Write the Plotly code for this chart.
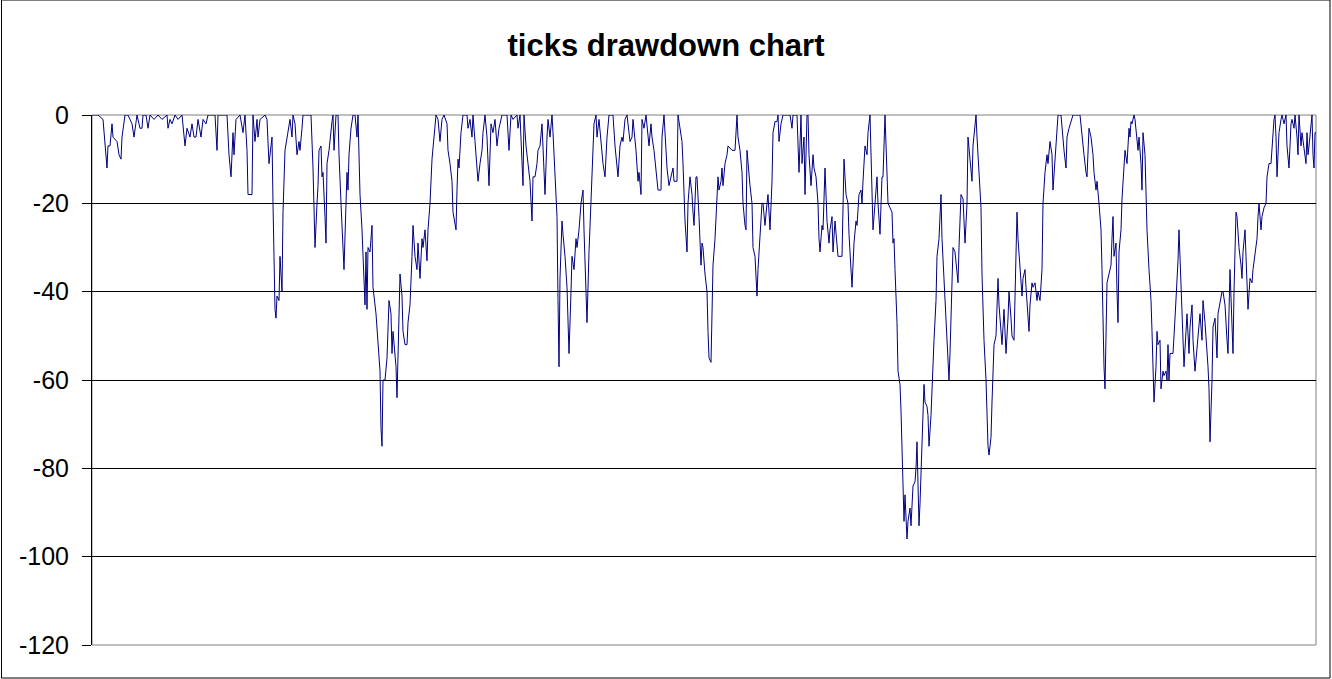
import plotly.graph_objects as go

# trade number (x) and drawdown in ticks (y)
trade = [
    0, 6, 11, 13, 15, 16, 18, 20, 21, 25, 27, 29, 30, 33, 36, 40, 42, 45, 48, 50,
    51, 54, 56, 58, 62, 66, 70, 75, 76, 78, 80, 83, 86, 90, 93, 95, 98, 100, 102, 104,
    106, 109, 111, 114, 116, 123, 125, 126, 135, 137, 139, 141, 142, 144, 148, 151, 153, 155, 156, 160,
    161, 163, 165, 166, 168, 173, 175, 177, 180, 181, 183, 184, 185, 187, 188, 190, 191, 193, 195, 198,
    200, 201, 203, 205, 207, 208, 210, 211, 216, 219, 221, 223, 225, 226, 227, 229, 230, 231, 233, 234,
    235, 237, 240, 241, 242, 244, 246, 247, 249, 251, 252, 254, 255, 256, 257, 259, 261, 263, 265, 266,
    268, 270, 271, 273, 274, 275, 276, 278, 280, 281, 284, 286, 288, 289, 290, 291, 293, 295, 296, 297,
    299, 300, 301, 302, 304, 305, 307, 308, 310, 311, 313, 315, 316, 318, 320, 321, 323, 325, 326, 328,
    330, 331, 333, 335, 336, 338, 340, 342, 344, 346, 348, 350, 352, 355, 356, 358, 360, 361, 363, 364,
    365, 366, 367, 369, 371, 375, 376, 378, 380, 381, 383, 385, 386, 388, 390, 391, 393, 395, 396, 397,
    399, 401, 403, 405, 407, 410, 415, 417, 419, 421, 425, 426, 428, 430, 431, 432, 434, 436, 438, 440,
    441, 443, 445, 446, 448, 450, 451, 453, 455, 456, 458, 460, 461, 463, 465, 466, 467, 468, 470, 471,
    473, 475, 476, 477, 479, 480, 482, 484, 485, 487, 489, 491, 492, 494, 495, 497, 499, 501, 502, 504,
    505, 507, 509, 511, 513, 515, 517, 521, 523, 525, 526, 528, 530, 531, 533, 535, 536, 538, 540, 541,
    544, 546, 547, 549, 550, 552, 554, 555, 557, 559, 560, 562, 564, 566, 569, 570, 572, 574, 575, 577,
    579, 581, 582, 585, 586, 588, 590, 591, 593, 595, 596, 598, 600, 601, 602, 604, 605, 607, 609, 610,
    611, 613, 615, 616, 617, 619, 620, 621, 623, 625, 626, 627, 629, 630, 631, 633, 635, 636, 640, 643,
    645, 646, 648, 650, 651, 653, 654, 655, 656, 658, 660, 661, 663, 665, 666, 668, 670, 671, 673, 675,
    676, 678, 680, 681, 683, 685, 686, 687, 689, 691, 698, 700, 701, 705, 706, 707, 709, 710, 712, 713,
    715, 716, 717, 719, 721, 722, 724, 726, 727, 728, 730, 731, 733, 734, 735, 737, 738, 740, 741, 743,
    745, 746, 750, 751, 752, 754, 756, 757, 759, 760, 762, 764, 765, 767, 769, 770, 771, 773, 775, 776,
    778, 780, 781, 783, 785, 786, 788, 790, 791, 793, 795, 796, 798, 800, 801, 802, 803, 805, 806, 808,
    809, 810, 811, 812, 813, 814, 815, 816, 818, 819, 820, 821, 823, 824, 825, 826, 827, 828, 829, 830,
    832, 833, 835, 836, 837, 839, 840, 842, 844, 845, 847, 848, 849, 850, 852, 854, 855, 857, 858, 860,
    861, 863, 865, 866, 867, 868, 869, 871, 872, 873, 875, 876, 878, 880, 881, 883, 884, 885, 887, 889,
    890, 892, 894, 895, 896, 897, 899, 900, 902, 904, 905, 906, 907, 909, 910, 912, 913, 914, 916, 917,
    919, 920, 922, 923, 924, 925, 926, 928, 930, 931, 933, 934, 935, 937, 938, 940, 941, 943, 945, 946,
    948, 950, 951, 953, 955, 956, 958, 960, 961, 963, 965, 966, 969, 971, 972, 974, 975, 977, 979, 981,
    988, 990, 992, 994, 995, 997, 999, 1001, 1002, 1004, 1005, 1007, 1009, 1010, 1011, 1012, 1013, 1014, 1015, 1017,
    1019, 1020, 1021, 1022, 1024, 1025, 1026, 1027, 1029, 1030, 1032, 1033, 1035, 1036, 1037, 1038, 1039, 1040, 1042, 1043,
    1045, 1046, 1047, 1049, 1050, 1051, 1053, 1054, 1055, 1057, 1059, 1060, 1061, 1062, 1064, 1065, 1066, 1068, 1069, 1071,
    1072, 1074, 1075, 1076, 1077, 1078, 1080, 1081, 1083, 1085, 1086, 1087, 1089, 1090, 1092, 1094, 1095, 1097, 1098, 1100,
    1101, 1103, 1105, 1106, 1108, 1110, 1111, 1113, 1115, 1116, 1117, 1118, 1120, 1121, 1123, 1125, 1126, 1128, 1130, 1131,
    1133, 1135, 1136, 1138, 1140, 1141, 1142, 1143, 1144, 1145, 1147, 1149, 1150, 1151, 1153, 1154, 1155, 1156, 1158, 1160,
    1161, 1163, 1165, 1166, 1167, 1169, 1170, 1172, 1174, 1175, 1177, 1179, 1180, 1182, 1183, 1184, 1185, 1187, 1189, 1190,
    1192, 1194, 1195, 1197, 1199, 1200, 1202, 1203, 1205, 1206, 1207, 1209, 1210, 1212, 1214, 1215, 1216, 1217, 1219, 1220,
    1221, 1222, 1223, 1224,
]

drawdown = [
    0, 0, -1, -7, -12, -7, -7, -2, -5, -6, -9, -10, -5, 0, 0, -2, -5, 0, -3, -3,
    0, 0, -3, 0, -1, 0, -1, 0, -3, -1, -2, 0, -1, 0, -7, -3, -5, -2, -5, -5,
    -1, -5, -1, -2, 0, 0, -8, 0, 0, -9, -14, -4, -9, -1, 0, -4, 0, -8, -18, -18,
    0, -6, -1, -5, -1, 0, -1, -11, -5, -20, -44, -46, -41, -42, -32, -40, -22, -8, -5, -1,
    -5, 0, -2, -9, -6, -8, -3, 0, 0, 0, -12, -30, -20, -16, -8, -7, -14, -13, -23, -29,
    -11, -8, -1.5, 0, -8, 0, 0, -9, -20, -32, -35, -20, -13, -17, -9, -3, 0, 0, -5, 0,
    -18, -26, -32, -43, -31, -44, -30, -31, -25, -39, -45, -51, -58, -71, -75, -60, -60, -55, -46, -42,
    -45, -54, -49, -52, -57, -64, -47, -36, -41, -49, -52, -52, -47, -43, -32, -25, -32, -35, -29, -37,
    -28, -30, -26, -33, -26, -20, -10, -4, 0, -1, -6, -1, 0, -2, -8, -11, -15, -22, -25, -26,
    -17, -10, -12, -4, 0, 0, -3, -1, -5, 0, -6, -11, -15, -11, -8, -4, 0, -5, -12, -16,
    -2, -4, -1, -7, -3, 0, 0, -8, 0, -1, 0, -3, 0, -12, -16, 0, -7, -11, -15, -24,
    -14, -14, -11, -8, -7, -2, -9, -18, -5, -1, -5, 0, -4, -13, -23, -42, -57, -37, -24, -27,
    -32, -39, -49, -54, -40, -32, -35, -28, -30, -26, -20, -17, -26, -41, -47, -31, -18, -9, -2, 0,
    -5, -1, -6, -11, -14, -5, 0, 0, -7, -13, -14, -7, -5, -6, -1, 0, -2, -6, -5, -1,
    -8, -15, -13, -18, -1, -3, 0, -2, -7, -2, -5, -8, -13, -17, -17, -5, 0, -8, -12, -16,
    -14, -12, -15, -15, 0, -3, -6, -11, -24, -31, -20, -14, -18, -22, -25, -14, -14, -23, -34, -29,
    -30, -36, -40, -49, -55, -56, -40, -34, -28, -20, -14, -17, -15, -12, -16, -11, -9, -7, -8, -8,
    0, -5, -8, -13, -20, -25, -26, -8, -11, -16, -20, -30, -32, -41, -35, -26, -20, -20, -25, -20,
    -18, -26, -15, -4, -1.5, -1.5, 0, -6, -2, 0, 0, -3, 0, 0, -9, -13, 0, -11, -5, -18,
    0, 0, -9, -16, -9, -12, -14, -20, -28, -31, -25, -26, -12, -20, -24, -29, -26, -23, -31, -24,
    -30, -32, -32, -15, -10, -18, -20, -27, -35, -39, -29, -24, -25, -18, -17, -20, -15, -7, -9, -4,
    0, -16, -26, -20, -14, -20, -27, -14, -14, 0, -14, -20, -21, -22, -29, -28, -35, -47, -58, -61,
    -67, -74, -80, -92, -86, -91, -96, -92, -89, -93, -89, -84, -83, -80, -74, -82, -93, -88, -82, -77,
    -61, -65, -66, -68, -75, -68, -61, -51, -42, -32, -28, -23, -18, -28, -37, -49, -52, -60, -54, -38,
    -30, -31, -35, -38, -30, -23, -18, -19, -24, -29, -20, -5, -10, -15, -7, -1, 0, -5, -12, -21,
    -36, -51, -60, -69, -75, -77, -73, -65, -52, -50, -45, -37, -43, -51, -52, -44, -50, -54, -46, -40,
    -46, -50, -51, -40, -29, -22, -28, -35, -41, -37, -35, -39, -42, -49, -43, -38, -39, -38, -42, -40,
    -42, -35, -20, -13, -9, -11, -6, -9, -17, -10, -5, 0, 0, -6, -8, -12, -5, -3, -1.5, 0,
    0, -5, -9, -13, -14, -3, -5, -9, -13, -17, -15, -20, -26, -35, -50, -57, -62, -44, -38, -36,
    -34, -28, -23, -32, -29, -40, -47, -31, -26, -19, -13, -8, -11, -5, -3, -5, -1.5, -2, 0, -1,
    -5, -8, -5, -11, -17, -4, -9, -18, -26, -35, -42, -49, -57, -65, -57, -49, -52, -51, -62, -58,
    -59, -58, -60, -52, -60, -54, -54, -54, -46, -38, -33, -26, -38, -47, -57, -49, -45, -54, -48, -43,
    -51, -58, -52, -50, -45, -51, -42, -47, -53, -57, -62, -74, -60, -48, -46, -55, -45, -42, -40, -40,
    -43, -51, -54, -35, -49, -54, -40, -28, -22, -23, -30, -34, -37, -31, -26, -32, -41, -44, -37, -38,
    -35, -32, -28, -23, -20, -26, -23, -21, -20, -14, -11, -11, -7, -1, 0, -5, -14, -4, -1, 0,
    -2, 0, -7, -12, -2, -1, -3, 0, -5, -9, 0, -7, -4, -8, -11, -4, -9, -7, -3, 0,
    -9, -12, -4, -4,
]

y_ticks = [0, -20, -40, -60, -80, -100, -120]

fig = go.Figure()
fig.add_trace(go.Scatter(x=trade, y=drawdown, mode="lines",
                         line=dict(color="#000080", width=1), hoverinfo="x+y"))

# grey frame around the plot area, above the gridlines but under the line
fig.add_shape(type="rect", xref="paper", yref="paper", x0=0, x1=1, y0=0, y1=1,
              line=dict(color="#808080", width=1), layer="between")
# outer chart border
fig.add_shape(type="rect", xref="paper", yref="paper",
              x0=-90.5 / 1224, x1=1238 / 1224, y0=-33 / 530, y1=645 / 530,
              line=dict(color="black", width=1))

fig.update_layout(
    width=1332, height=679,
    margin=dict(l=92, r=16, t=115, b=34),
    paper_bgcolor="white", plot_bgcolor="white",
    font=dict(family="Liberation Sans, Arial", color="black"),
    title=dict(text="<b>ticks drawdown chart</b>", x=0.5, xref="container",
               y=1 - 45 / 679, yref="container", yanchor="middle",
               font=dict(size=31, color="black")),
    showlegend=False,
)
fig.update_xaxes(range=[0, 1224], showgrid=False, zeroline=False,
                 showticklabels=False, ticks="", showline=False)
fig.update_yaxes(range=[-120, 0], tickvals=y_ticks, ticktext=[str(v) for v in y_ticks],
                 showgrid=True, gridcolor="black", gridwidth=1, zeroline=False,
                 showline=True, linecolor="black", linewidth=1,
                 ticks="outside", ticklen=9, tickcolor="black",
                 tickfont=dict(size=25), ticklabelstandoff=8)

fig.write_html("out.html", config={"displayModeBar": False},
               post_script="document.body.style.margin = '0';")
